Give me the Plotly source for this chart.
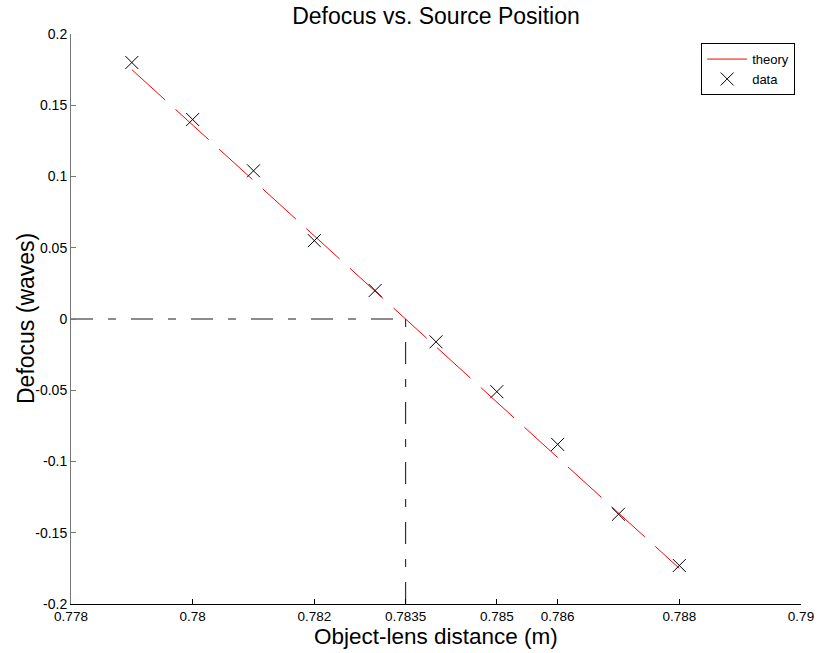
import plotly.graph_objects as go

# Data
data_x = [0.779, 0.780, 0.781, 0.782, 0.783, 0.784, 0.785, 0.786, 0.787, 0.788]
data_y = [0.180, 0.140, 0.104, 0.055, 0.020, -0.016, -0.051, -0.088, -0.137, -0.173]
theory_x = [0.779, 0.788]
theory_y = [0.175, -0.175]
zero_h_x = [0.778, 0.7835]
zero_h_y = [0.0, 0.0]
zero_v_x = [0.7835, 0.7835]
zero_v_y = [-0.2, 0.0]
x_ticks = [0.778, 0.78, 0.782, 0.7835, 0.785, 0.786, 0.788, 0.79]
x_ticklabels = ["0.778", "0.78", "0.782", "0.7835", "0.785", "0.786", "0.788", "0.79"]
y_ticks = [0.2, 0.15, 0.1, 0.05, 0, -0.05, -0.1, -0.15, -0.2]
y_ticklabels = ["0.2", "0.15", "0.1", "0.05", "0", "-0.05", "-0.1", "-0.15", "-0.2"]
title_text = "Defocus vs. Source Position"
x_title = "Object-lens distance (m)"
y_title = "Defocus (waves)"

FONT = "Liberation Sans, Arial, Helvetica, sans-serif"

fig = go.Figure()
fig.add_trace(go.Scatter(x=zero_h_x, y=zero_h_y, mode="lines", showlegend=False,
                         line=dict(color="#666666", width=1.5, dash="22px,15px,8px,15px"),
                         hoverinfo="skip"))
fig.add_trace(go.Scatter(x=zero_v_x, y=zero_v_y, mode="lines", showlegend=False,
                         line=dict(color="#333333", width=1.2, dash="22px,15px,8px,15px"),
                         hoverinfo="skip"))
fig.add_trace(go.Scatter(x=theory_x, y=theory_y, mode="lines", name="theory",
                         line=dict(color="#ff0000", width=1, dash="45px,14px")))
fig.add_trace(go.Scatter(x=data_x, y=data_y, mode="markers", name="data",
                         marker=dict(symbol="x-thin", size=13, color="black",
                                     line=dict(color="black", width=1))))

fig.update_layout(
    width=819, height=653,
    margin=dict(l=71, r=18, t=34, b=49, autoexpand=False),
    paper_bgcolor="white", plot_bgcolor="white",
    font=dict(family=FONT, size=14, color="black"),
    title=dict(text=title_text, x=0.5, xref="paper", xanchor="center",
               y=1, yref="paper", yanchor="bottom", pad=dict(b=10),
               font=dict(size=23, family=FONT)),
    showlegend=True,
    legend=dict(x=0.992, y=0.984, xanchor="right", yanchor="top",
                bordercolor="black", borderwidth=1, bgcolor="white",
                font=dict(size=13, family=FONT), tracegroupgap=0,
                itemwidth=40),
    xaxis=dict(range=[0.778, 0.79], tickmode="array", tickvals=x_ticks,
               ticktext=x_ticklabels, ticks="inside", ticklen=5,
               tickcolor="black", showline=True, linecolor="black",
               linewidth=1, showgrid=False, zeroline=False, automargin=False,
               tickfont=dict(size=13.5)),
    yaxis=dict(range=[-0.2, 0.2], tickmode="array", tickvals=y_ticks,
               ticktext=y_ticklabels, ticks="inside", ticklen=5,
               tickcolor="#777777", showline=True, linecolor="#777777",
               linewidth=1, showgrid=False, zeroline=False, automargin=False,
               tickfont=dict(size=14)),
    annotations=[
        dict(text=x_title, xref="paper", yref="paper", x=0.5, y=0,
             xanchor="center", yanchor="middle", yshift=-32, showarrow=False,
             font=dict(size=22.5, family=FONT)),
        dict(text=y_title, xref="paper", yref="paper", x=0, y=0.5,
             xanchor="center", yanchor="middle", xshift=-45, textangle=-90,
             showarrow=False, font=dict(size=23, family=FONT)),
    ],
)

fig.write_html("out.html", config={"displayModeBar": False},
               post_script="document.body.style.margin='0';document.body.style.overflow='hidden';")
